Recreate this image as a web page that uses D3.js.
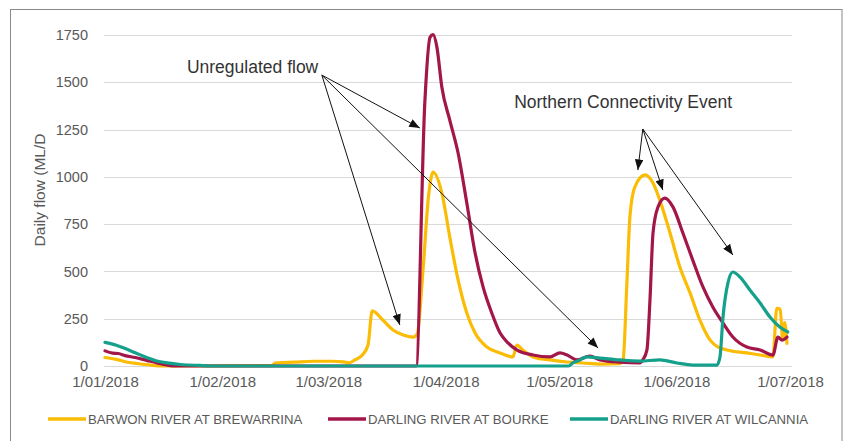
<!DOCTYPE html>
<html>
<head>
<meta charset="utf-8">
<script src="https://cdn.jsdelivr.net/npm/d3@7"></script>
<style>
  html, body { margin: 0; padding: 0; background: #fff; }
  svg { display: block; font-family: "Liberation Sans", Arial, sans-serif; }
</style>
</head>
<body>
<svg id="chart" width="847" height="441"></svg>
<script>
// ---------- DATA (days since 1 Jan 2018, daily flow ML/D) ----------
const seriesNames = ["BARWON RIVER AT BREWARRINA", "DARLING RIVER AT BOURKE", "DARLING RIVER AT WILCANNIA"];
const seriesColors = ["#FBBC05", "#A3164A", "#14A08B"];

const barwonDays = [0,3,6,9,12,15,44,45,50,55,60,63,64.5,66,68,69.5,70.6,73.4,76.1,78.8,81.5,82.5,84,85.5,86.7,89,91.1,93.3,95.6,97.8,100.9,104.4,107.8,108.8,110.4,113.1,117.6,122.1,126.3,130.8,136,136.9,137.9,138.7,140,142.7,144.8,146.6,149.3,151.9,154.6,157.2,159.9,162,164.3,169.6,173.1,176.5,177.5,178.4,179.1,179.6,180.2];
const barwonFlow = [45,35,20,12,5,0,2,15,20,25,25,22,17,32,58,111,291,243,190,164,153,170,500,900,1025,915,682,455,280,174,100,69,48,111,85,48,32,21,16,10,12,32,439,788,946,1010,967,877,703,523,386,243,137,100,85,69,58,48,305,300,140,230,120];

const bourkeDays = [0,2,3.5,5.3,8,11,14,17,18.5,82.2,84.5,85.9,86.7,87.7,89,91.1,93.3,95.6,97.8,99.9,102.2,104.4,106.5,108.8,113.1,117.6,120.2,122.1,124.7,128.1,130.8,136,141.3,142.1,143.2,144,144.8,146.1,147.9,150.1,152.7,155.3,158,160.6,163.3,165.9,169.6,173.1,176.5,177.8,178.9,180.2];
const bourkeFlow = [80,68,66,55,45,30,15,3,0,0,1390,1739,1752,1686,1475,1300,1126,862,597,418,280,174,122,85,58,48,69,58,32,53,32,20,16,32,85,349,703,840,888,840,703,560,418,312,227,153,100,85,58,153,137,153];

const wilcanniaDays = [0,3,5,8,11,14,17,20,25,30,122.5,123.6,125.5,127.3,130.8,136,141.3,146.6,151.1,155.3,161.7,162.5,163.3,164.6,165.9,167.8,170.4,173.1,175.7,178.3,180.4];
const wilcanniaFlow = [125,110,95,70,45,25,15,8,3,0,0,16,32,48,42,32,26,32,16,5,5,48,259,439,497,470,402,333,259,206,180];

const yTicks = [0, 250, 500, 750, 1000, 1250, 1500, 1750];
const xTickLabels = ["1/01/2018","1/02/2018","1/03/2018","1/04/2018","1/05/2018","1/06/2018","1/07/2018"];
const yAxisTitle = "Daily flow (ML/D";

// annotations: label position and arrow targets in data coordinates [day, flow]
const unregLabel = ["Unregulated flow", 39, 1575];
const unregOrigin = [57.3, 1538];
const unregTargets = [[77.9, 217], [83.2, 1258], [130.3, 95]];
const nceLabel = ["Northern Connectivity Event", 136.9, 1390];
const nceOrigin = [142.1, 1253];
const nceTargets = [[140.8, 1036], [147.4, 930], [165.9, 587]];

// ---------- SETUP ----------
const svg = d3.select("#chart");
const base = Date.UTC(2018, 0, 1);
const toDate = d => new Date(base + d * 864e5);
const parseTick = d3.utcParse("%d/%m/%Y");

const x = d3.scaleUtc().domain([toDate(0), new Date(Date.UTC(2018, 6, 1))]).range([105, 790]);
const y = d3.scaleLinear().domain([0, 1750]).range([366, 35]);

// outer border
svg.append("rect").attr("x", 10.5).attr("y", 9.5).attr("width", 831.5).attr("height", 440)
  .attr("fill", "none").attr("stroke", "#8a8a8a").attr("stroke-width", 1);

// gridlines
svg.append("g").selectAll("line").data(yTicks).join("line")
  .attr("x1", 104).attr("x2", 792)
  .attr("y1", d => Math.round(y(d)) + 0.5).attr("y2", d => Math.round(y(d)) + 0.5)
  .attr("stroke", "#d9d9d9").attr("stroke-width", 1);

// y axis (labels only)
const yAxis = d3.axisLeft(y).tickValues(yTicks).tickSize(0).tickPadding(0).tickFormat(d3.format("d"));
const gy = svg.append("g").attr("transform", "translate(88,0)").call(yAxis);
gy.select(".domain").remove();
gy.selectAll("text").attr("fill", "#595959").style("font-size", "14.5px")
  .style("font-family", '"Liberation Sans", Arial, sans-serif');

// x axis (labels only)
const xTickDates = xTickLabels.map(s => parseTick(s));
const xAxis = d3.axisBottom(x).tickValues(xTickDates).tickSize(0).tickPadding(0)
  .tickFormat((d, i) => xTickLabels[i]);
const gx = svg.append("g").attr("transform", "translate(0,376)").call(xAxis);
gx.select(".domain").remove();
gx.selectAll("text").attr("fill", "#595959").style("font-size", "15px")
  .style("font-family", '"Liberation Sans", Arial, sans-serif');

// y title
svg.append("text").attr("transform", "translate(45,190) rotate(-90)")
  .attr("text-anchor", "middle").attr("fill", "#595959").style("font-size", "15.5px")
  .text(yAxisTitle);

// ---------- LINES ----------
const series = [
  {days: barwonDays, flow: barwonFlow},
  {days: bourkeDays, flow: bourkeFlow},
  {days: wilcanniaDays, flow: wilcanniaFlow}
];
const line = d3.line().x(p => x(toDate(p[0]))).y(p => y(p[1])).curve(d3.curveMonotoneX);
svg.append("g").selectAll("path").data(series).join("path")
  .attr("d", s => line(s.days.map((d, i) => [d, s.flow[i]])))
  .attr("fill", "none")
  .attr("stroke", (s, i) => seriesColors[i])
  .attr("stroke-width", 3.2)
  .attr("stroke-linejoin", "round").attr("stroke-linecap", "round");

// ---------- ANNOTATIONS ----------
const defs = svg.append("defs");
defs.append("marker").attr("id", "arrow").attr("viewBox", "0 0 10 8")
  .attr("refX", 10).attr("refY", 4).attr("markerWidth", 11).attr("markerHeight", 8.5)
  .attr("markerUnits", "userSpaceOnUse").attr("orient", "auto")
  .append("path").attr("d", "M0,0 L10,4 L0,8 Z").attr("fill", "#111");

function arrows(origin, targets) {
  svg.append("g").selectAll("line").data(targets).join("line")
    .attr("x1", x(toDate(origin[0]))).attr("y1", y(origin[1]))
    .attr("x2", t => x(toDate(t[0]))).attr("y2", t => y(t[1]))
    .attr("stroke", "#111").attr("stroke-width", 1)
    .attr("marker-end", "url(#arrow)");
}
arrows(unregOrigin, unregTargets);
arrows(nceOrigin, nceTargets);

[unregLabel, nceLabel].forEach(l => {
  svg.append("text").attr("x", x(toDate(l[1]))).attr("y", y(l[2]))
    .attr("text-anchor", "middle").attr("dominant-baseline", "middle")
    .attr("fill", "#333").style("font-size", "17.5px").text(l[0]);
});

// ---------- LEGEND ----------
const legendX = [48, 328, 570];
const lg = svg.append("g").selectAll("g").data(seriesNames).join("g")
  .attr("transform", (d, i) => `translate(${legendX[i]},419)`);
lg.append("line").attr("x1", 0).attr("x2", 38).attr("y1", 0).attr("y2", 0)
  .attr("stroke", (d, i) => seriesColors[i]).attr("stroke-width", 3.5);
lg.append("text").attr("x", 40).attr("y", 0).attr("dominant-baseline", "central")
  .attr("fill", "#595959").style("font-size", "13.2px").text(d => d);
</script>
</body>
</html>
